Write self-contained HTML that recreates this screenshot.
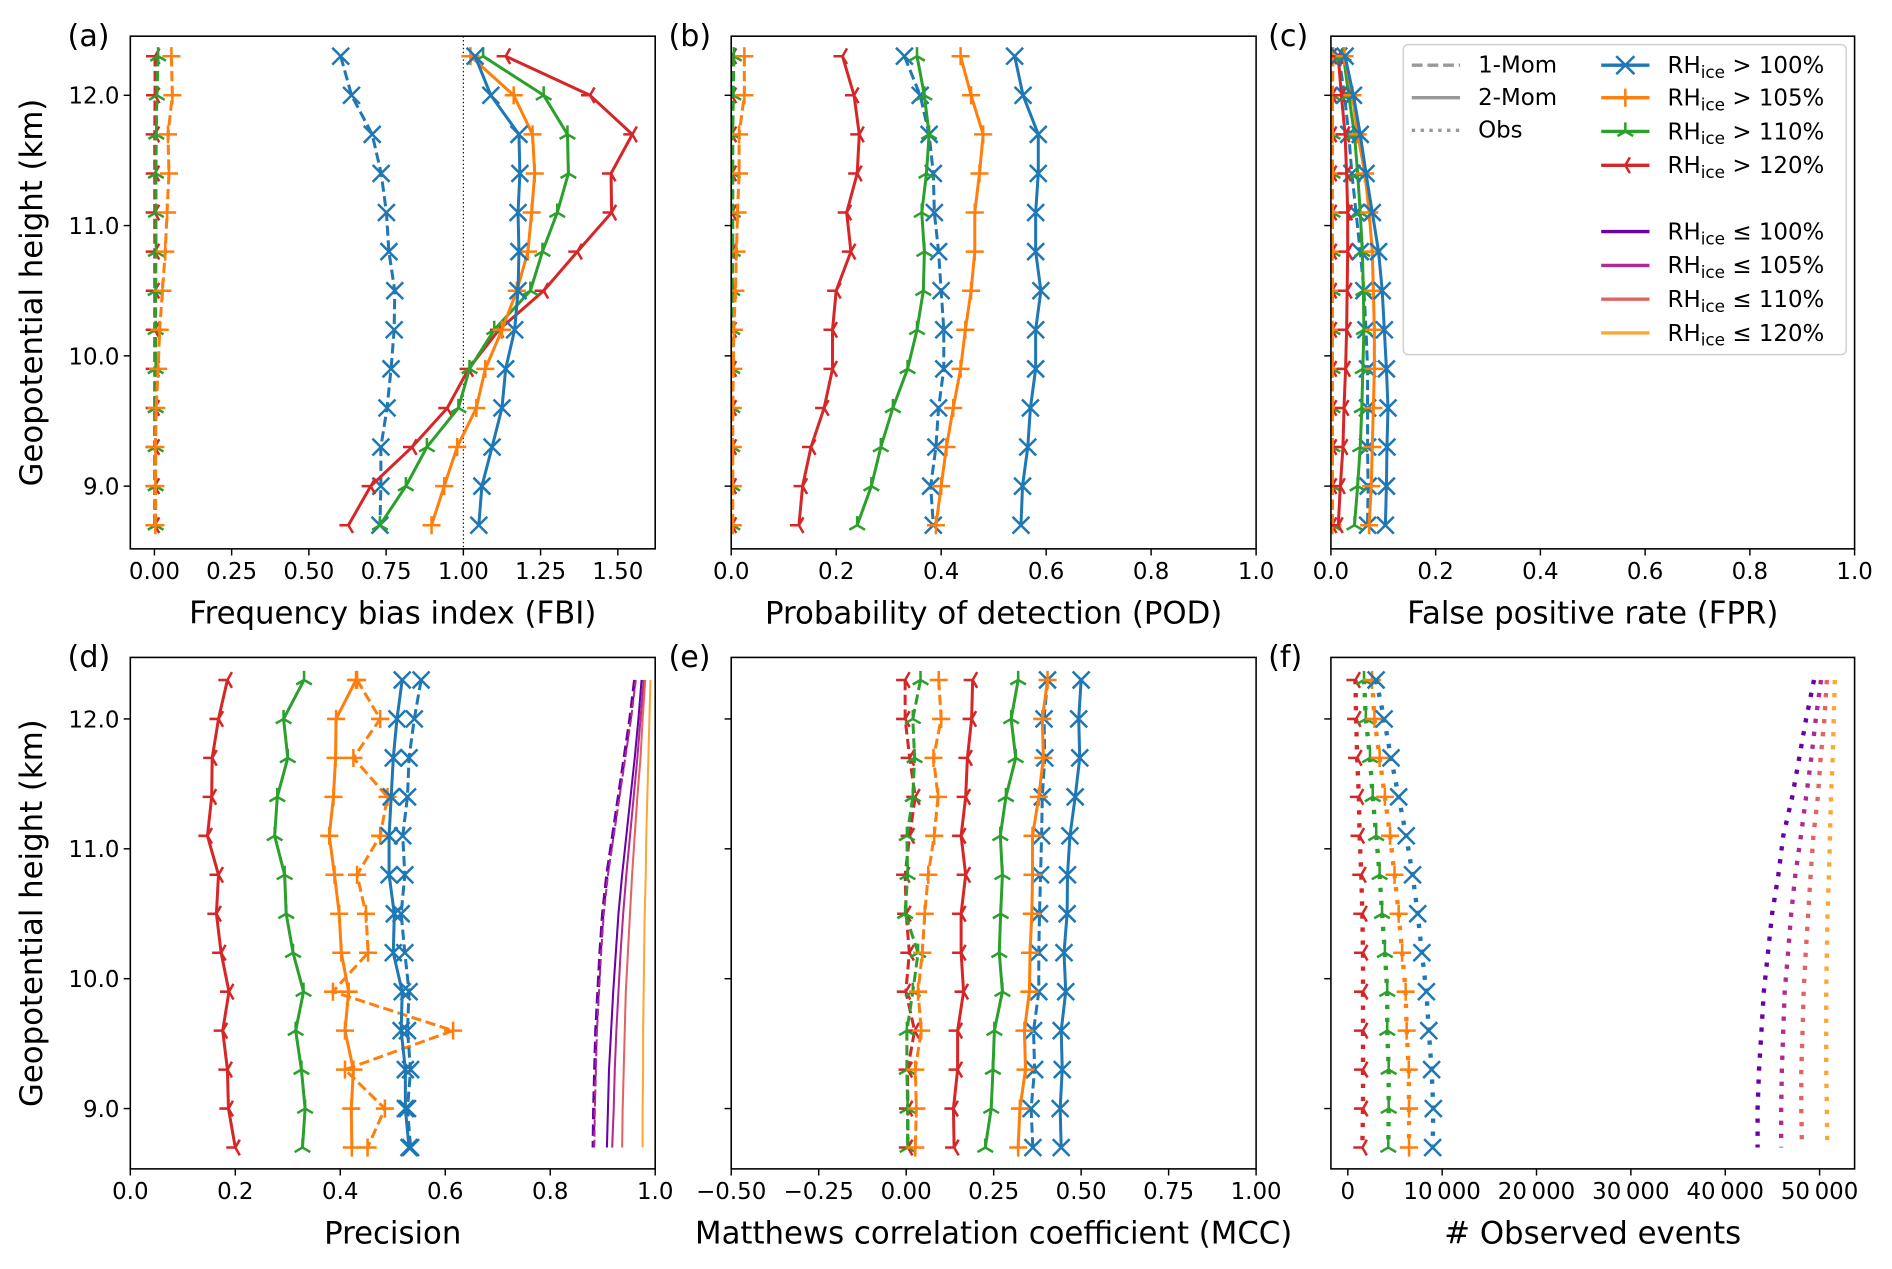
<!DOCTYPE html>
<html><head><meta charset="utf-8"><title>Verification metrics profiles</title>
<style>html,body{margin:0;padding:0;background:#fff}svg{display:block}text{font-family:"DejaVu Sans","Liberation Sans",sans-serif;fill:#000}</style>
</head><body>
<svg id="fig" xmlns="http://www.w3.org/2000/svg" width="1892" height="1269" viewBox="0 0 1568 1052" preserveAspectRatio="none">
<rect x="0" y="0" width="1568" height="1052" fill="#fff"/>
<g id="legend">
<rect x="1163" y="37" width="367" height="257" rx="4" fill="#fff" fill-opacity="0.85" stroke="#d0d0d0" stroke-width="1.2"/>
<line x1="1170" y1="54" x2="1210" y2="54" stroke="#999" stroke-width="2.8" stroke-dasharray="9 4"/>
<text x="1225" y="60" font-size="19">1-Mom</text>
<line x1="1170" y1="81" x2="1210" y2="81" stroke="#999" stroke-width="2.8"/>
<text x="1225" y="87" font-size="19">2-Mom</text>
<line x1="1170" y1="108" x2="1210" y2="108" stroke="#999" stroke-width="2.8" stroke-dasharray="2.8 4.5"/>
<text x="1225" y="114" font-size="19">Obs</text>
</g>
</svg>
<script>
const levels=[12.3,12.0,11.7,11.4,11.1,10.8,10.5,10.2,9.9,9.6,9.3,9.0,8.7];
// (a) FBI
const fbiBlue2=[1.038,1.089,1.18,1.183,1.177,1.18,1.177,1.166,1.137,1.125,1.093,1.06,1.05];
const fbiBlue1=[0.603,0.638,0.705,0.734,0.751,0.759,0.778,0.776,0.766,0.753,0.733,0.733,0.73];
const fbiOrange2=[1.023,1.163,1.224,1.231,1.221,1.209,1.173,1.125,1.071,1.042,0.98,0.938,0.897];
const fbiOrange1=[0.055,0.058,0.044,0.047,0.041,0.035,0.026,0.017,0.012,0.006,0.003,0.003,0.003];
const fbiGreen2=[1.064,1.26,1.337,1.34,1.304,1.256,1.217,1.1,1.02,0.984,0.882,0.814,0.73];
const fbiGreen1=[0.012,0.008,0.006,0.005,0.005,0.005,0.004,0.004,0.004,0.004,0.004,0.004,0.004];
const fbiRed2=[1.137,1.41,1.547,1.478,1.48,1.369,1.26,1.115,1.017,0.948,0.834,0.70,0.628];
const fbiRed1=[0.002,0.002,0.001,0.001,0.001,0.001,0.001,0.001,0.001,0.001,0.001,0.001,0.001];
// (b) POD
const podBlue2=[0.54,0.556,0.585,0.585,0.58,0.58,0.59,0.58,0.58,0.57,0.565,0.555,0.552];
const podBlue1=[0.33,0.36,0.377,0.385,0.387,0.395,0.40,0.405,0.405,0.395,0.39,0.38,0.385];
const podOrange2=[0.437,0.457,0.48,0.473,0.464,0.464,0.457,0.446,0.437,0.423,0.41,0.40,0.39];
const podOrange1=[0.025,0.025,0.015,0.015,0.012,0.01,0.008,0.005,0.004,0.003,0.003,0.003,0.003];
const podGreen2=[0.354,0.368,0.377,0.372,0.363,0.368,0.366,0.354,0.336,0.308,0.285,0.267,0.24];
const podGreen1=[0.005,0.004,0.003,0.003,0.003,0.003,0.002,0.002,0.002,0.002,0.002,0.002,0.002];
const podRed2=[0.212,0.234,0.244,0.24,0.22,0.228,0.2,0.193,0.193,0.177,0.152,0.136,0.129];
const podRed1=[0.001,0.001,0.001,0.001,0.001,0.001,0.001,0.001,0.001,0.001,0.001,0.001,0.001];
// (c) FPR
const fprBlue2=[0.027,0.043,0.056,0.067,0.079,0.091,0.098,0.102,0.106,0.109,0.107,0.106,0.104];
const fprBlue1=[0.015,0.026,0.034,0.04,0.048,0.056,0.063,0.067,0.07,0.07,0.07,0.071,0.07];
const fprOrange2=[0.026,0.041,0.051,0.065,0.073,0.079,0.081,0.083,0.083,0.081,0.079,0.077,0.073];
const fprOrange1=[0.004,0.003,0.003,0.003,0.003,0.003,0.003,0.003,0.003,0.003,0.003,0.003,0.003];
const fprGreen2=[0.024,0.034,0.045,0.051,0.056,0.06,0.062,0.063,0.061,0.059,0.056,0.051,0.045];
const fprGreen1=[0.003,0.003,0.003,0.003,0.003,0.003,0.003,0.003,0.003,0.003,0.003,0.003,0.003];
const fprRed2=[0.014,0.02,0.027,0.03,0.032,0.032,0.031,0.03,0.028,0.025,0.023,0.018,0.014];
const fprRed1=[0.002,0.002,0.002,0.002,0.002,0.002,0.002,0.002,0.002,0.002,0.002,0.002,0.002];
// (d) Precision
const precBlue2=[0.518,0.508,0.501,0.497,0.493,0.493,0.503,0.501,0.518,0.516,0.524,0.524,0.531];
const precBlue1=[0.554,0.541,0.531,0.528,0.519,0.523,0.516,0.523,0.531,0.528,0.534,0.528,0.534];
const precOrange2=[0.43,0.392,0.391,0.387,0.379,0.389,0.398,0.402,0.416,0.409,0.425,0.421,0.422];
const precOrange1=[0.432,0.476,0.425,0.49,0.476,0.432,0.449,0.453,0.386,0.615,0.409,0.485,0.452];
const precGreen2=[0.331,0.292,0.30,0.28,0.275,0.294,0.297,0.31,0.33,0.315,0.326,0.333,0.328];
const precRed2=[0.185,0.168,0.156,0.155,0.147,0.168,0.164,0.173,0.188,0.176,0.185,0.187,0.2];
const precNeg100_1=[0.961,0.952,0.941,0.93,0.919,0.908,0.9,0.895,0.891,0.887,0.885,0.883,0.882];
const precNeg105_1=[0.963,0.954,0.943,0.932,0.921,0.91,0.902,0.897,0.893,0.889,0.887,0.885,0.884];
const precNeg100_2=[0.974,0.968,0.961,0.953,0.945,0.937,0.93,0.925,0.92,0.916,0.912,0.91,0.908];
const precNeg105_2=[0.978,0.972,0.966,0.959,0.952,0.945,0.939,0.934,0.93,0.926,0.923,0.921,0.918];
const precNeg110_2=[0.981,0.976,0.972,0.966,0.961,0.956,0.952,0.948,0.944,0.942,0.94,0.938,0.937];
const precNeg120_2=[0.991,0.989,0.987,0.985,0.983,0.982,0.98,0.979,0.978,0.977,0.977,0.976,0.976];
// (e) MCC
const mccBlue2=[0.50,0.493,0.496,0.483,0.468,0.461,0.46,0.451,0.456,0.443,0.446,0.44,0.443];
const mccBlue1=[0.404,0.394,0.396,0.389,0.387,0.384,0.381,0.379,0.379,0.364,0.367,0.357,0.362];
const mccOrange2=[0.404,0.389,0.392,0.379,0.361,0.361,0.359,0.354,0.352,0.338,0.341,0.325,0.32];
const mccOrange1=[0.093,0.1,0.078,0.091,0.08,0.063,0.053,0.046,0.034,0.043,0.026,0.029,0.026];
const mccGreen2=[0.32,0.30,0.313,0.285,0.269,0.275,0.27,0.266,0.275,0.252,0.248,0.243,0.226];
const mccGreen1=[0.041,0.019,0.024,0.019,0.002,0.004,-0.003,0.034,0.019,0.002,0.002,0.004,0.004];
const mccRed2=[0.19,0.187,0.175,0.17,0.157,0.17,0.157,0.157,0.164,0.147,0.147,0.135,0.137];
const mccRed1=[-0.003,-0.003,0.01,0.026,0.01,-0.003,0.0,0.009,-0.001,0.024,0.004,0.005,0.005];
// (f) observed events
const obsBlue=[3000,3850,4580,5390,6190,6860,7410,7850,8330,8580,8880,9060,8990];
const obsOrange=[2570,2820,3370,3930,4480,4950,5390,5760,6130,6240,6460,6490,6490];
const obsGreen=[1720,1910,2350,2640,3010,3370,3630,3930,4180,4180,4330,4330,4290];
const obsRed=[810,880,990,1170,1250,1430,1540,1610,1610,1610,1610,1610,1540];
const obsNeg100=[49410,48570,47840,47100,46150,45630,44970,44530,44090,43840,43580,43430,43430];
const obsNeg105=[50150,49600,49120,48570,48020,47430,46990,46660,46300,46150,46000,45930,45930];
const obsNeg110=[50770,50510,50110,49820,49340,49050,48790,48530,48310,48200,48060,48060,48130];
const obsNeg120=[51610,51500,51390,51210,51100,50990,50840,50770,50700,50700,50700,50770,50810];

const xTicksA=[0,0.25,0.5,0.75,1.0,1.25,1.5];
const xTickLabelsA=["0.00","0.25","0.50","0.75","1.00","1.25","1.50"];
const xTicksUnit=[0,0.2,0.4,0.6,0.8,1.0];
const xTickLabelsUnit=["0.0","0.2","0.4","0.6","0.8","1.0"];
const xTicksE=[-0.5,-0.25,0,0.25,0.5,0.75,1.0];
const xTickLabelsE=["\u22120.50","\u22120.25","0.00","0.25","0.50","0.75","1.00"];
const xTicksF=[0,10000,20000,30000,40000,50000];
const xTickLabelsF=["0","10\u2009000","20\u2009000","30\u2009000","40\u2009000","50\u2009000"];
const yTicks=[9,10,11,12];
const yTickLabels=["9.0","10.0","11.0","12.0"];

const C={blue:"#1f77b4",orange:"#ff7f0e",green:"#2ca02c",red:"#d62728",p1:"#6a00a8",p2:"#b12a90",p3:"#e16462",p4:"#fca636"};
const NS="http://www.w3.org/2000/svg";
const svg=document.getElementById('fig');
const legendG=document.getElementById('legend');
function mk(tag,attrs,parent){const e=document.createElementNS(NS,tag);for(const k in attrs)e.setAttribute(k,attrs[k]);(parent||svg).appendChild(e);return e;}

const panels=[
 {id:'a',L:108,R:543,T:30,B:455,xmin:-0.078,xmax:1.621,ylab:true,label:"(a)",xlabel:"Frequency bias index (FBI)",ticks:xTicksA,tl:xTickLabelsA},
 {id:'b',L:606,R:1041,T:30,B:455,xmin:0,xmax:1,ylab:false,label:"(b)",xlabel:"Probability of detection (POD)",ticks:xTicksUnit,tl:xTickLabelsUnit},
 {id:'c',L:1103,R:1537,T:30,B:455,xmin:0,xmax:1,ylab:false,label:"(c)",xlabel:"False positive rate (FPR)",ticks:xTicksUnit,tl:xTickLabelsUnit},
 {id:'d',L:108,R:543,T:545,B:969,xmin:0,xmax:1,ylab:true,label:"(d)",xlabel:"Precision",ticks:xTicksUnit,tl:xTickLabelsUnit},
 {id:'e',L:606,R:1041,T:545,B:969,xmin:-0.5,xmax:1,ylab:false,label:"(e)",xlabel:"Matthews correlation coefficient (MCC)",ticks:xTicksE,tl:xTickLabelsE},
 {id:'f',L:1103,R:1537,T:545,B:969,xmin:-1790,xmax:53710,ylab:false,label:"(f)",xlabel:"# Observed events",ticks:xTicksF,tl:xTickLabelsF}
];
panels.forEach(p=>{
 const top=p.T<500;
 const y12=top?79:596, y9=top?403:919;
 const k=(y9-y12)/3;
 p.ymax=12+(y12-p.T)/k; p.ymin=9-(p.B-y9)/k;
 p.sx=v=>p.L+(v-p.xmin)/(p.xmax-p.xmin)*(p.R-p.L);
 p.sy=v=>p.B-(v-p.ymin)/(p.ymax-p.ymin)*(p.B-p.T);
});

function markerPath(t,s){
 const a=0.866*s,b=0.5*s;
 if(t==='x')return `M${-s},${-s}L${s},${s}M${-s},${s}L${s},${-s}`;
 if(t==='+')return `M${-s},0L${s},0M0,${-s}L0,${s}`;
 if(t==='tu')return `M0,0L0,${-s}M0,0L${-a},${b}M0,0L${a},${b}`;
 if(t==='tl')return `M0,0L${-s},0M0,0L${b},${-a}M0,0L${b},${a}`;
 return '';
}
function series(p,vals,color,style,marker,name,lw,g){
 const grp=mk('g',{},g);
 
 
 let d='';
 vals.forEach((v,i)=>{d+=(i?'L':'M')+p.sx(v).toFixed(2)+','+p.sy(levels[i]).toFixed(2);});
 const w=lw||2.5;
 const at={d:d,fill:'none',stroke:color,'stroke-width':w,'stroke-linejoin':'round'};
 if(style==='dash')at['stroke-dasharray']=(w*3.4)+' '+(w*1.5);
 if(style==='dot'){at['stroke-dasharray']='3.6 7.2';at['stroke-linecap']='butt';}
 const line=mk('path',at,grp);
 
 
 if(marker){
  const s=marker==='x'?7:7.5;
  vals.forEach((v,i)=>{
   const m=mk('path',{d:markerPath(marker,s),transform:`translate(${p.sx(v).toFixed(2)},${p.sy(levels[i]).toFixed(2)})`,fill:'none',stroke:color,'stroke-width':2.1},grp);
   
   
  });
 }
}

panels.forEach(p=>{
 const g=mk('g',{});
 
 
 const cp=mk('clipPath',{id:'clip'+p.id},g);
 mk('rect',{x:p.L,y:p.T,width:p.R-p.L,height:p.B-p.T},cp);
 p.plot=mk('g',{'clip-path':'url(#clip'+p.id+')'},g);
 p.g=g;
 p.ticks.forEach((t,i)=>{
  const x=p.sx(t);
  const tk=mk('line',{x1:x,y1:p.B,x2:x,y2:p.B+5.5,stroke:'#000','stroke-width':1.2},g);
  
  
  const tx=mk('text',{x:x,y:p.B+25,'font-size':19,'text-anchor':'middle'},g);
  tx.textContent=p.tl[i];
  
  
 });
 yTicks.forEach((t,i)=>{
  const y=p.sy(t);
  const tk=mk('line',{x1:p.L-5.5,y1:y,x2:p.L,y2:y,stroke:'#000','stroke-width':1.2},g);
  
  
  if(p.ylab){
   const tx=mk('text',{x:p.L-9,y:y+7,'font-size':19,'text-anchor':'end'},g);
   tx.textContent=yTickLabels[i];
   
   
  }
 });
 const xl=mk('text',{x:(p.L+p.R)/2,y:p.B+62,'font-size':25.5,'text-anchor':'middle'},g);
 xl.textContent=p.xlabel;
 
 
 if(p.ylab){
  const cy=(p.T+p.B)/2;
  const yl=mk('text',{x:35,y:cy,'font-size':25.5,'text-anchor':'middle',transform:`rotate(-90 35 ${cy})`},g);
  yl.textContent='Geopotential height (km)';
  
  
 }
 const pl=mk('text',{x:p.L-52,y:p.T+8,'font-size':25},g);
 pl.textContent=p.label;
 
 
});
const [A,B,Cc,D,E,F]=panels;
const ref=mk('line',{x1:A.sx(1),y1:A.T,x2:A.sx(1),y2:A.B,stroke:'#000','stroke-width':0.9,'stroke-dasharray':'1.2 2'},A.plot);



function four(p,b2,b1,o2,o1,g2,g1,r2,r1){
 if(r1)series(p,r1,C.red,'dash','tl','red-1mom',2.5,p.plot);
 if(g1)series(p,g1,C.green,'dash','tu','green-1mom',2.5,p.plot);
 if(o1)series(p,o1,C.orange,'dash','+','orange-1mom',2.5,p.plot);
 if(b1)series(p,b1,C.blue,'dash','x','blue-1mom',2.5,p.plot);
 series(p,r2,C.red,'solid','tl','red-2mom',2.5,p.plot);
 series(p,g2,C.green,'solid','tu','green-2mom',2.5,p.plot);
 series(p,o2,C.orange,'solid','+','orange-2mom',2.5,p.plot);
 series(p,b2,C.blue,'solid','x','blue-2mom',2.5,p.plot);
}
four(A,fbiBlue2,fbiBlue1,fbiOrange2,fbiOrange1,fbiGreen2,fbiGreen1,fbiRed2,fbiRed1);
four(B,podBlue2,podBlue1,podOrange2,podOrange1,podGreen2,podGreen1,podRed2,podRed1);
four(Cc,fprBlue2,fprBlue1,fprOrange2,fprOrange1,fprGreen2,fprGreen1,fprRed2,fprRed1);
four(D,precBlue2,precBlue1,precOrange2,precOrange1,precGreen2,null,precRed2,null);
series(D,precNeg100_1,C.p1,'dash',null,'le100-1mom',2.8,D.plot);
series(D,precNeg105_1,C.p2,'dash',null,'le105-1mom',1.7,D.plot);
series(D,precNeg100_2,C.p1,'solid',null,'le100-2mom',1.7,D.plot);
series(D,precNeg105_2,C.p2,'solid',null,'le105-2mom',1.7,D.plot);
series(D,precNeg110_2,C.p3,'solid',null,'le110-2mom',1.7,D.plot);
series(D,precNeg120_2,C.p4,'solid',null,'le120-2mom',1.7,D.plot);
four(E,mccBlue2,mccBlue1,mccOrange2,mccOrange1,mccGreen2,mccGreen1,mccRed2,mccRed1);
series(F,obsRed,C.red,'dot','tl','red-obs',3.6,F.plot);
series(F,obsGreen,C.green,'dot','tu','green-obs',3.6,F.plot);
series(F,obsOrange,C.orange,'dot','+','orange-obs',3.6,F.plot);
series(F,obsBlue,C.blue,'dot','x','blue-obs',3.6,F.plot);
series(F,obsNeg100,C.p1,'dot',null,'le100-obs',3.6,F.plot);
series(F,obsNeg105,C.p2,'dot',null,'le105-obs',3.6,F.plot);
series(F,obsNeg110,C.p3,'dot',null,'le110-obs',3.6,F.plot);
series(F,obsNeg120,C.p4,'dot',null,'le120-obs',3.6,F.plot);

panels.forEach(p=>{
 const fr=mk('rect',{x:p.L,y:p.T,width:p.R-p.L,height:p.B-p.T,fill:'none',stroke:'#000','stroke-width':1.3},p.g);
 
 
});
svg.appendChild(legendG);
const legItems=[
 {c:C.blue,m:'x',op:'>',v:'100%',y:54},{c:C.orange,m:'+',op:'>',v:'105%',y:81},
 {c:C.green,m:'tu',op:'>',v:'110%',y:109},{c:C.red,m:'tl',op:'>',v:'120%',y:137},
 {c:C.p1,m:null,op:'\u2264',v:'100%',y:192},{c:C.p2,m:null,op:'\u2264',v:'105%',y:220},
 {c:C.p3,m:null,op:'\u2264',v:'110%',y:248},{c:C.p4,m:null,op:'\u2264',v:'120%',y:276}
];
legItems.forEach(it=>{
 const g=mk('g',{},legendG);
 
 
 mk('line',{x1:1327,y1:it.y,x2:1367,y2:it.y,stroke:it.c,'stroke-width':2.8},g);
 if(it.m)mk('path',{d:markerPath(it.m,7.5),transform:`translate(1347,${it.y})`,fill:'none',stroke:it.c,'stroke-width':2.1},g);
 const t=mk('text',{x:1382,y:it.y+6.5,'font-size':19},g);
 t.setAttribute('xml:space','preserve');
 const s1=mk('tspan',{},t);s1.textContent='RH';
 const s2=mk('tspan',{'font-size':14,dy:4},t);s2.textContent='ice';
 const s3=mk('tspan',{dy:-4},t);s3.textContent=(it.op==='>'?' > ':'  \u2264  ')+it.v;
});
</script>
</body></html>
